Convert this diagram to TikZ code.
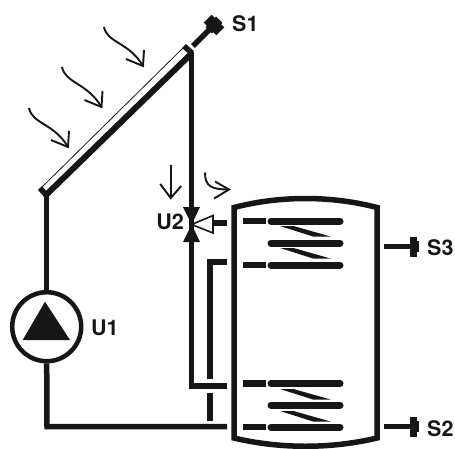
\documentclass[tikz,border=0pt]{standalone}
\usepackage{fontspec}
\setmainfont{TeX Gyre Heros}
\usetikzlibrary{arrows.meta,shapes.geometric,calc}
\definecolor{pipeblack}{RGB}{22,22,22}
\begin{document}
\begin{tikzpicture}[x=1pt,y=-1pt,
  pipe/.style={draw=pipeblack, line width=5.5pt},
  coilbar/.style={draw=pipeblack, line width=7pt, line cap=round},
  stub/.style={draw=pipeblack, line width=6.5pt},
  wedge/.style={fill=pipeblack},
  ray/.style={draw=pipeblack, line width=1.9pt},
  barb/.style={draw=pipeblack, line width=1.9pt, line join=miter},
  lbl/.style={font=\fontsize{21.5}{25}\selectfont\bfseries, text=pipeblack, inner sep=0pt},
  senshead/.style={rectangle, fill=pipeblack, minimum width=7.5pt, minimum height=20pt, inner sep=0pt}
]
  \useasboundingbox (0,0) rectangle (455,448);

  % collector
  \coordinate (colA) at (41,188);
  \coordinate (colB) at (184,47);
  \coordinate (colC) at (192,53);
  \coordinate (colD) at (46,195);
  \draw[pipeblack, line width=0.8pt] (colA) -- (colB);
  \draw[pipe, line width=6pt] (colD) -- (colC);
  \draw[pipe] ($(colA)+(-1,0)$) -- (colD);
  \draw[pipe] ($(colB)+(0,-1)$) -- (colC);

  % sun rays
  \coordinate (rayA) at (104,27);  \coordinate (rayAe) at (143,66);
  \coordinate (rayB) at (62,67);   \coordinate (rayBe) at (101.5,107);
  \coordinate (rayC) at (29,108);  \coordinate (rayCe) at (68,147);
  \foreach \from/\to in {rayA/rayAe, rayB/rayBe, rayC/rayCe} {
    \draw[ray] (\from) .. controls ($(\from)+(3,16)$) and ($(\to)+(-14,-24)$) .. (\to);
    \draw[barb] ($(\to)+(-17,-7)$) -- (\to) -- ($(\to)+(1,-16)$);
  }

  % sensor S1
  \node[senshead, rotate=45, minimum width=11pt, minimum height=18pt] (headS1) at (214,25) {};
  \node[senshead, rotate=45, minimum width=15pt, minimum height=9pt] (capS1) at (214,25) {};
  \coordinate (wireS1) at (193,46);
  \draw[pipe] (wireS1) -- (headS1);
  \node[lbl, anchor=west] (S1) at (232,24) {S1};

  % pump
  \node[circle, draw=pipeblack, line width=4.5pt, minimum size=69pt, inner sep=0pt] (U1pump) at (46.7,326.7) {};
  \fill[pipeblack] (45,301.7) -- (70,340) -- (22.7,340) -- cycle;
  \node[lbl, anchor=west] (U1) at (91,328) {U1};

  % collector return
  \coordinate (retC) at (47,426.5);
  \coordinate (retT) at (227,426.5);
  \draw[pipe] (46.7,193) -- (U1pump.north);
  \draw[pipe] (U1pump.south) -- (retC) -- (retT);

  % flow pipe and valve
  \coordinate (valve) at (191.7,224.5);
  \coordinate (flowB) at (191.7,386);
  \coordinate (flowE) at (227,386);
  \draw[pipe] (191.7,52) -- (valve);
  \draw[pipe] (valve) -- (flowB) -- (flowE);
  \fill[pipeblack] (183,207) -- (200,207) -- (valve) -- cycle;
  \fill[pipeblack] (183,242) -- (200,242) -- (valve) -- cycle;
  \draw[pipeblack, line width=1.6pt, fill=white] (valve) -- (213,215.5) -- (213,233) -- cycle;
  \coordinate (valveS) at (213,223);
  \coordinate (valveE) at (227,223);
  \draw[pipe] (valveS) -- (valveE);
  \node[lbl, anchor=east] (U2) at (184,222) {U2};

  % bypass
  \coordinate (byA) at (227,262);
  \coordinate (byB) at (210,262);
  \coordinate (byC) at (210,379);
  \coordinate (byD) at (210,393);
  \coordinate (byE) at (210,421);
  \draw[pipe] (byA) -- (byB) -- (byC);
  \draw[pipe] (byD) -- (byE);

  % flow arrows
  \coordinate (flowA) at (170.7,165);
  \coordinate (flowAe) at (170.7,198);
  \draw[ray] (flowA) -- (flowAe);
  \draw[barb] ($(flowAe)+(-10.5,-14)$) -- (flowAe) -- ($(flowAe)+(10.5,-12)$);
  \coordinate (flowC) at (205,172.5);
  \coordinate (flowCe) at (229,189.5);
  \draw[ray] (flowC) .. controls (205,186) and (211,189.5) .. (flowCe);
  \draw[barb] ($(flowCe)+(-14,-8)$) -- (flowCe) -- ($(flowCe)+(-15,9)$);

  % tank
  \draw[pipe] (234,207.5) .. controls (280,195.5) and (331,195.5) .. (377,207.5)
    -- (377,438) .. controls (331,449) and (280,449) .. (234,438) -- cycle;

  % coils
  \foreach \y in {221,243,265,383.5,405,427}
    \draw[coilbar] (271,\y) -- (340,\y);
  \foreach \y in {221,265,383.5,427}
    \draw[stub] (243,\y) -- (266,\y);
  \foreach \y in {226,248,389,411}
    \fill[wedge] (280,\y) -- (293.5,\y) -- (330.5,\y+10.5) -- (313,\y+10.5) -- cycle;

  % sensors S3 and S2
  \node[senshead] (headS3) at (413.5,246.7) {};
  \node[senshead] (headS2) at (413.5,426.7) {};
  \coordinate (wireS3) at (384,246.7);
  \coordinate (wireS2) at (384,426.7);
  \foreach \from/\to in {wireS3/headS3, wireS2/headS2}
    \draw[pipe] (\from) -- (\to);
  \fill[pipeblack] (417,241) rectangle (419,252);
  \fill[pipeblack] (417,421) rectangle (419,432);
  \node[lbl, anchor=west] (S3) at (427,248) {S3};
  \node[lbl, anchor=west] (S2) at (427,429) {S2};
\end{tikzpicture}
\end{document}
